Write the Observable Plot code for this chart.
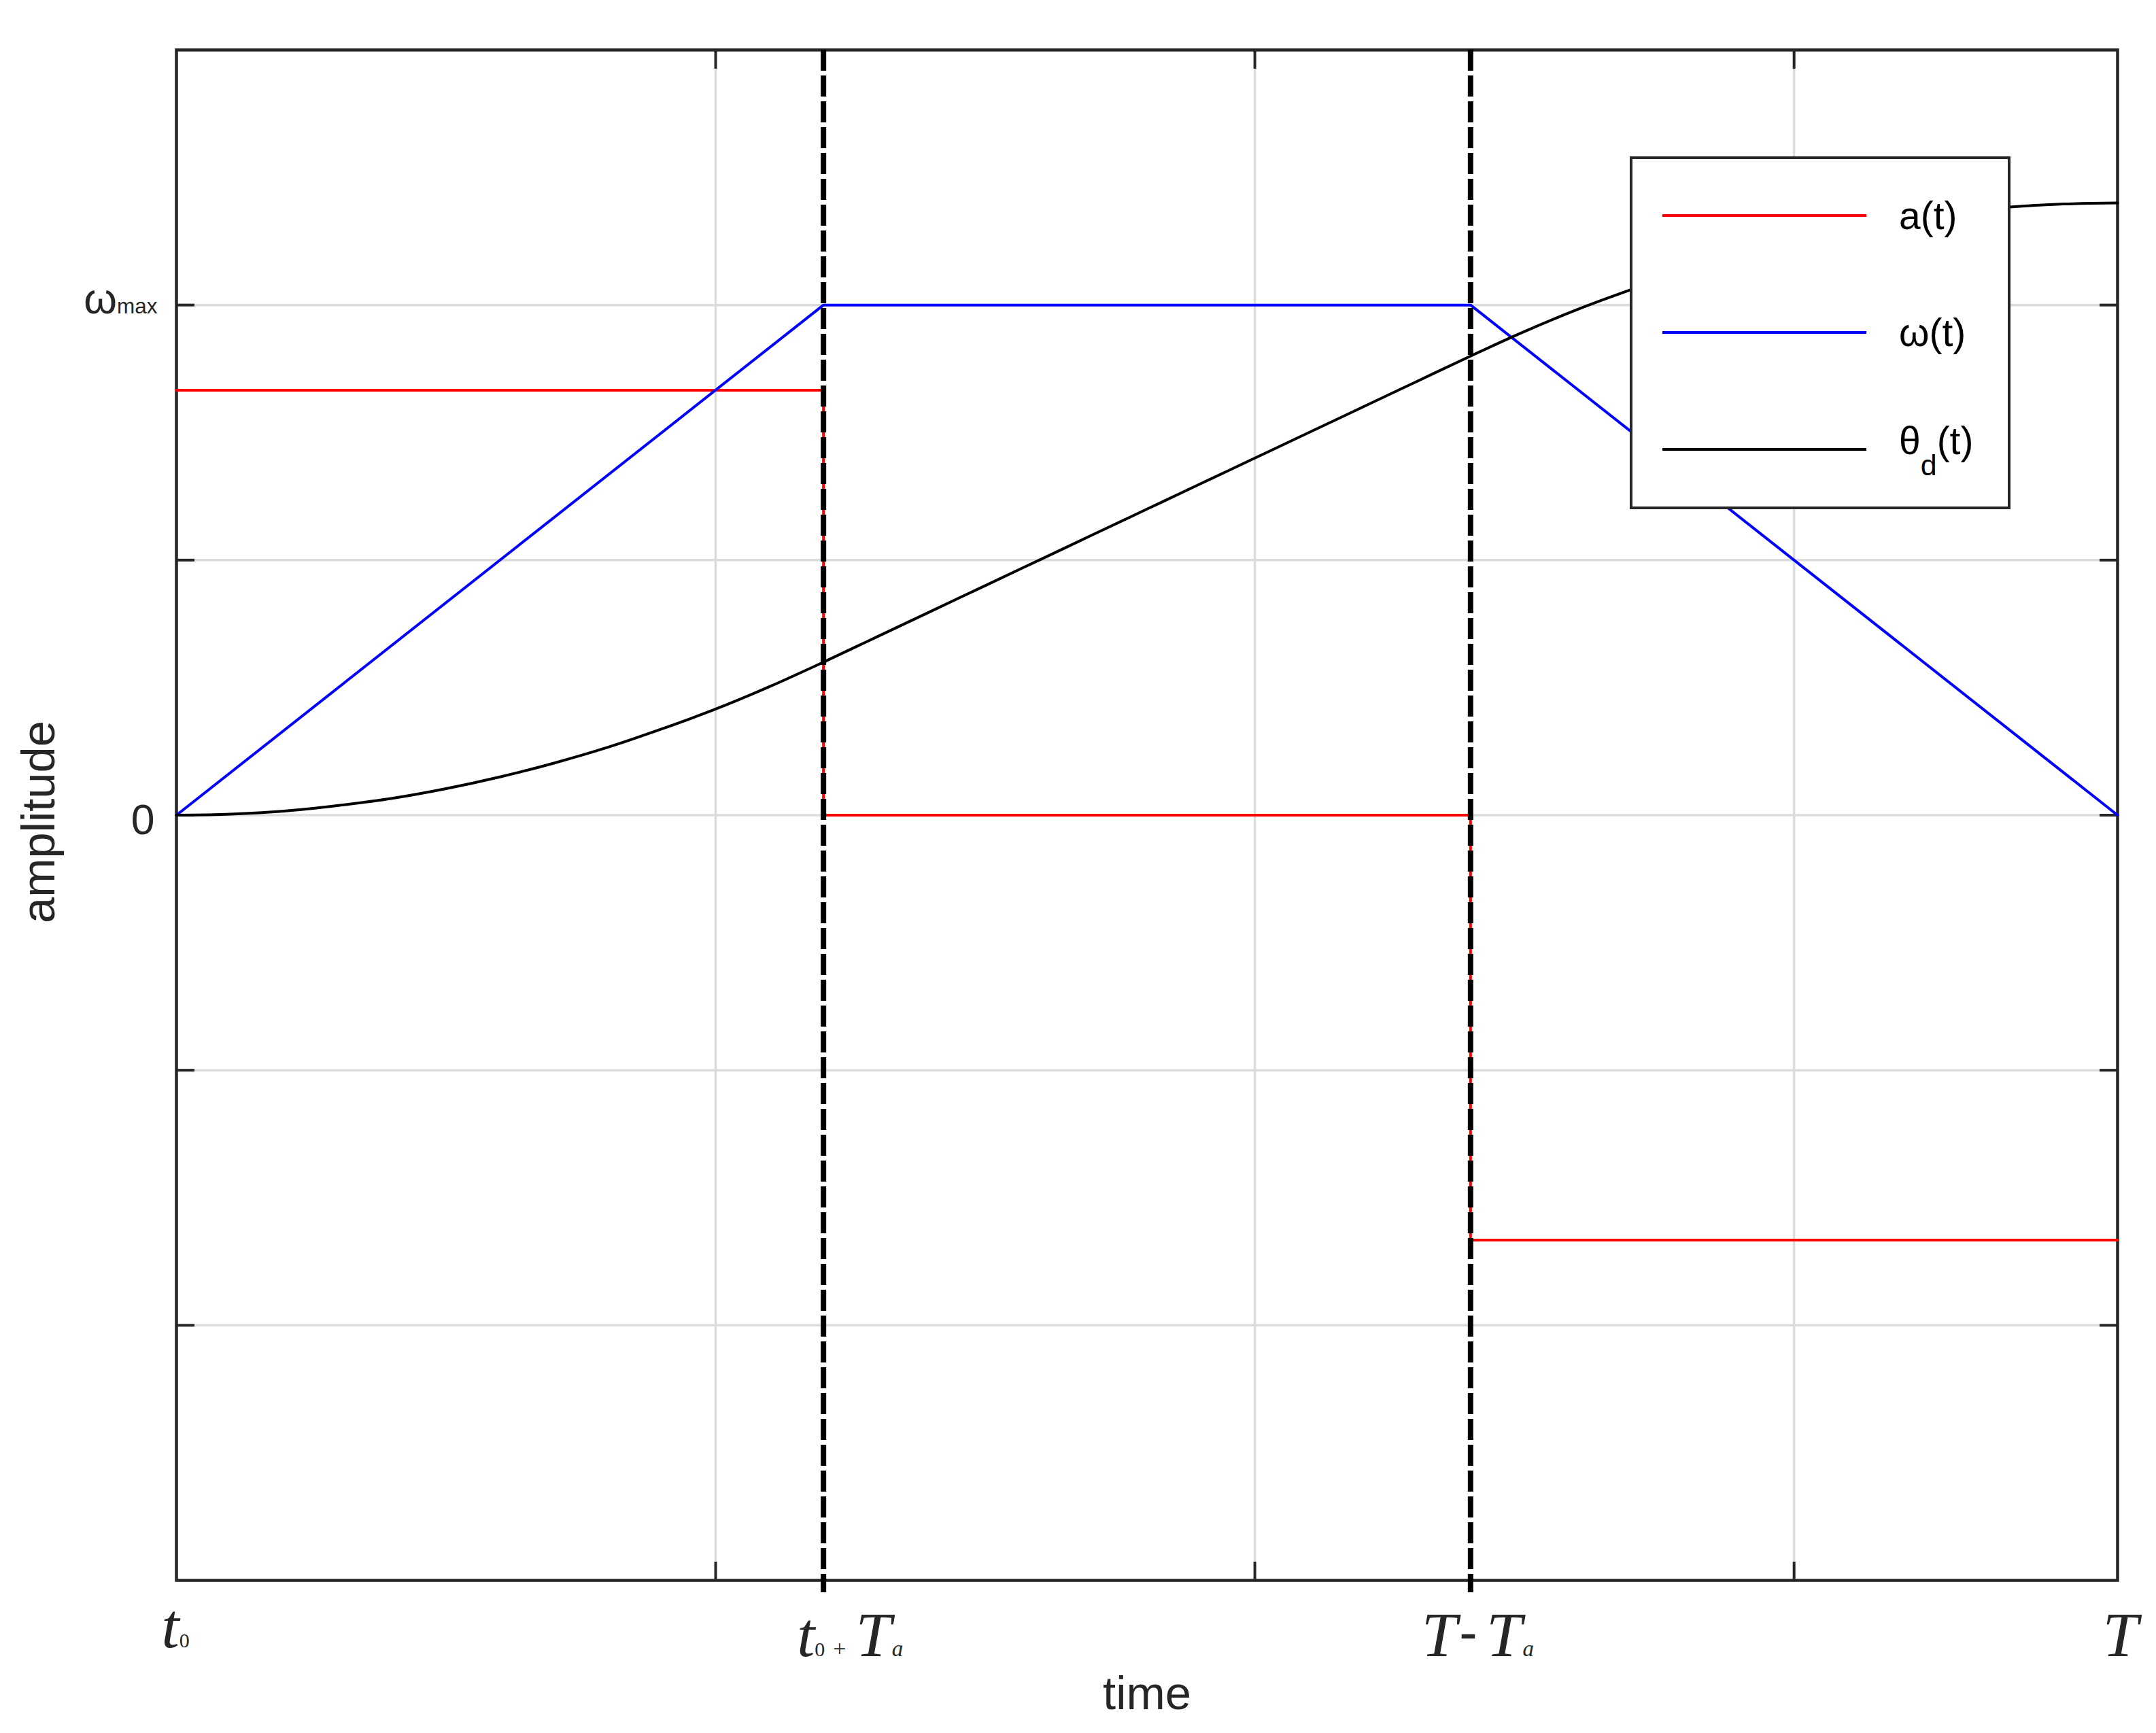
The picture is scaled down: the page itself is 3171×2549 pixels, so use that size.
<!DOCTYPE html>
<html>
<head>
<meta charset="utf-8">
<script src="https://cdn.jsdelivr.net/npm/d3@7"></script>
<script src="https://cdn.jsdelivr.net/npm/@observablehq/plot@0.6"></script>
<style>
  html, body { margin: 0; padding: 0; background: #ffffff; }
  svg { display: block; }
</style>
</head>
<body>
<div id="chart"></div>
<script>
// ---------------- data ----------------
const accelTime  = [0, 1.2, 1.2, 2.4, 2.4, 3.6];
const accelValue = [0.833, 0.833, 0, 0, -0.833, -0.833];

const omegaTime  = [0, 1.2, 2.4, 3.6];
const omegaValue = [0, 1, 1, 0];

const thetaTime  = [0, 0.1, 0.2, 0.3, 0.4, 0.5, 0.6, 0.7, 0.8, 0.9, 1.0, 1.1, 1.2,
                    1.3, 1.4, 1.5, 1.6, 1.7, 1.8, 1.9, 2.0, 2.1, 2.2, 2.3, 2.4,
                    2.5, 2.6, 2.7, 2.8, 2.9, 3.0, 3.1, 3.2, 3.3, 3.4, 3.5, 3.6];
const thetaValue = [0, 0.002, 0.008, 0.019, 0.033, 0.052, 0.075, 0.102, 0.133, 0.169, 0.208, 0.252, 0.300,
                    0.350, 0.400, 0.450, 0.500, 0.550, 0.600, 0.650, 0.700, 0.750, 0.800, 0.850, 0.900,
                    0.948, 0.992, 1.031, 1.067, 1.098, 1.125, 1.148, 1.167, 1.181, 1.192, 1.198, 1.200];

const phaseBoundaries = [1.2, 2.4];
const xGridTicks = [1, 2, 3];
const yGridTicks = [-1, -0.5, 0, 0.5, 1];

const xTickValues = [0, 1.2, 2.4, 3.6];
const xTickLabels = ["t_0", "t_0+T_a", "T-T_a", "T"];

const yTickValues = [0, 1];
const yTickLabels = ["0", "ω_max"];

const seriesNames = ["a(t)", "ω(t)", "θ_d(t)"];
const xLabel = "time";
const yLabel = "amplitude";

// ---------------- style ----------------
const W = 3171, H = 2549;
const AXIS = "#262626";
const GRID = "#dcdcdc";
const seriesColors = ["#ff0000", "#0000ff", "#000000"];
const SANS = "'Liberation Sans', Arial, Helvetica, sans-serif";
const SERIF = "'Liberation Serif', 'Times New Roman', serif";

function tokenize(s) {
  const out = [];
  for (let i = 0; i < s.length; i++) {
    const c = s[i];
    if (c === "_") {
      let j = i + 1, buf = "";
      while (j < s.length && /[A-Za-z0-9]/.test(s[j])) { buf += s[j]; j++; }
      out.push({t: buf, kind: "sub"});
      i = j - 1;
    } else if (c === "+") out.push({t: c, kind: "plus"});
    else if (c === "-") out.push({t: c, kind: "minus"});
    else {
      const last = out[out.length - 1];
      if (last && last.kind === "main") last.t += c; else out.push({t: c, kind: "main"});
    }
  }
  return out;
}
const plain = s => s.replace(/_/g, "");

const xLabelOffsets = [ {dx: -22, dy: -13}, {dx: -39, dy: 0}, {dx: -72, dy: 0}, {dx: -22, dy: 0} ];
const yLabelOffsets = [ {dx: -32, dy: 8}, {dx: -28, dy: -8} ];

const marks = [
  Plot.gridX(xGridTicks, {stroke: GRID, strokeOpacity: 1, strokeWidth: 3.5}),
  Plot.gridY(yGridTicks, {stroke: GRID, strokeOpacity: 1, strokeWidth: 3.5}),
  Plot.axisX(xGridTicks, {anchor: "bottom", tickSize: 27, dy: -27, stroke: AXIS, strokeWidth: 4, fill: "none", label: null}),
  Plot.axisX(xGridTicks, {anchor: "top", tickSize: 27, dy: 27, stroke: AXIS, strokeWidth: 4, fill: "none", label: null}),
  Plot.axisY(yGridTicks, {anchor: "left", tickSize: 27, dx: 27, stroke: AXIS, strokeWidth: 4, fill: "none", label: null}),
  Plot.axisY(yGridTicks, {anchor: "right", tickSize: 27, dx: -27, stroke: AXIS, strokeWidth: 4, fill: "none", label: null}),
  Plot.frame({stroke: AXIS, strokeWidth: 4.5}),
  Plot.line(accelValue, {x: accelTime, y: accelValue, stroke: seriesColors[0], strokeWidth: 4}),
  Plot.line(omegaValue, {x: omegaTime, y: omegaValue, stroke: seriesColors[1], strokeWidth: 4}),
  Plot.line(thetaValue, {x: thetaTime, y: thetaValue, stroke: seriesColors[2], strokeWidth: 4, curve: "monotone-x"}),
  Plot.ruleX(phaseBoundaries, {stroke: "#000000", strokeWidth: 8, strokeDasharray: "31,7", insetBottom: -18}),
  Plot.text([xLabel], {frameAnchor: "bottom", textAnchor: "middle", dy: 167, lineAnchor: "middle", fontSize: 68.75, fill: AXIS}),
  Plot.text([yLabel], {frameAnchor: "left", textAnchor: "middle", rotate: -90, dx: -202, dy: 10, lineAnchor: "middle", fontSize: 68.75, fill: AXIS})
];

xTickValues.forEach((v, i) => {
  marks.push(Plot.text([v], {
    x: d => d, text: () => plain(xTickLabels[i]),
    frameAnchor: "bottom", textAnchor: "start", lineAnchor: "middle",
    dx: xLabelOffsets[i].dx, dy: 81 + xLabelOffsets[i].dy,
    fontSize: 94, fontFamily: SERIF, fill: AXIS, ariaDescription: "xtick-" + i
  }));
});
yTickValues.forEach((v, i) => {
  marks.push(Plot.text([v], {
    y: d => d, text: () => plain(yTickLabels[i]),
    frameAnchor: "left", textAnchor: "end", lineAnchor: "middle",
    dx: yLabelOffsets[i].dx, dy: yLabelOffsets[i].dy,
    fontSize: 62.5, fill: AXIS, ariaDescription: "ytick-" + i
  }));
});

const svg = Plot.plot({
  width: W, height: H,
  marginLeft: 259, marginRight: 57, marginTop: 73, marginBottom: 225,
  x: {domain: [0, 3.6]},
  y: {domain: [-1.5, 1.5]},
  style: {fontFamily: SANS, background: "#ffffff", color: AXIS, overflow: "visible"},
  marks
});
document.getElementById("chart").appendChild(svg);

// find the <text> of a Plot text mark by its aria-description
function markText(desc) {
  return d3.select(svg).selectAll("g").filter(function() {
    return this.getAttribute("aria-description") === desc;
  }).select("text");
}

// ------- rich text for math-style tick labels -------
xTickLabels.forEach((lab, i) => {
  const text = markText("xtick-" + i);
  if (text.empty()) return;
  text.text(null);
  const toks = tokenize(lab);
  let pendingDy = 0;
  toks.forEach((tk, k) => {
    const prev = toks[k - 1];
    const ts = text.append("tspan").text(tk.t);
    let dx = 0, dy = pendingDy; pendingDy = 0;
    if (tk.kind === "main") {
      ts.attr("font-size", 94).attr("font-style", "italic");
      if (prev && (prev.kind === "plus" || prev.kind === "minus")) dx = 14;
    } else if (tk.kind === "sub") {
      const isDigit = /^[0-9]+$/.test(tk.t);
      ts.attr("font-size", isDigit ? 30 : 33).attr("font-style", isDigit ? "normal" : "italic");
      dx = isDigit ? 0 : 1;
    } else if (tk.kind === "plus") {
      ts.attr("font-size", 34).attr("font-style", "normal");
      dx = 12;
    } else if (tk.kind === "minus") {
      ts.attr("font-size", 75).attr("font-weight", "bold").attr("font-style", "normal");
      dx = 4; dy += -12; pendingDy = 12;
    }
    if (dx) ts.attr("dx", dx);
    if (dy) ts.attr("dy", dy);
  });
});

yTickLabels.forEach((lab, i) => {
  const text = markText("ytick-" + i);
  const toks = tokenize(lab);
  if (text.empty() || toks.length < 2) return;
  text.text(null);
  toks.forEach(tk => {
    text.append("tspan").text(tk.t).attr("font-size", tk.kind === "sub" ? 31.5 : 62.5);
  });
});

// ------- legend -------
const lg = d3.select(svg).append("g").attr("aria-label", "legend").attr("text-anchor", "start");
lg.append("rect")
  .attr("x", 2399).attr("y", 232).attr("width", 556).attr("height", 515)
  .attr("fill", "#ffffff").attr("stroke", AXIS).attr("stroke-width", 4);
seriesNames.forEach((name, i) => {
  const cy = 317 + i * 172;
  lg.append("line")
    .attr("x1", 2445).attr("x2", 2745).attr("y1", cy).attr("y2", cy)
    .attr("stroke", seriesColors[i]).attr("stroke-width", 4);
  const toks = tokenize(name);
  const hasSub = toks.some(t => t.kind === "sub");
  const t = lg.append("text")
    .attr("x", 2793).attr("y", cy + (hasSub ? 7 : 20))
    .attr("text-anchor", "start")
    .attr("font-size", 57).attr("fill", "#000000").attr("font-family", SANS);
  let pending = 0;
  toks.forEach(tk => {
    const ts = t.append("tspan").text(tk.t);
    if (tk.kind === "sub") { ts.attr("font-size", 43).attr("dy", 31); pending = -31; }
    else if (pending) { ts.attr("dy", pending); pending = 0; }
  });
});
</script>
</body>
</html>
